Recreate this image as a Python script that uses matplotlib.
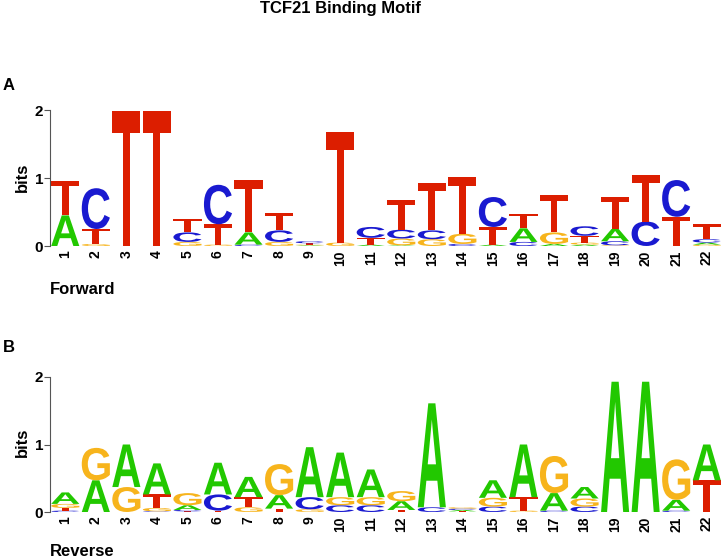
import matplotlib
matplotlib.use('Agg')
import matplotlib.pyplot as plt
from matplotlib.textpath import TextPath
from matplotlib.patches import PathPatch
from matplotlib.font_manager import FontProperties
from matplotlib.transforms import Affine2D

# positions 1..22, information (bits) carried by each base
positions = list(range(1, 23))

fwd_A = [0.45, 0, 0, 0, 0, 0, 0.18, 0, 0.01, 0, 0.02, 0.01, 0, 0, 0.02, 0.20, 0.03, 0.02, 0.18, 0, 0, 0.03]
fwd_C = [0, 0.60, 0, 0, 0.14, 0.58, 0.02, 0.17, 0.03, 0, 0.16, 0.13, 0.13, 0.03, 0.44, 0.06, 0, 0.14, 0.06, 0.36, 0.54, 0.05]
fwd_G = [0, 0.03, 0, 0, 0.06, 0.02, 0, 0.06, 0.01, 0.05, 0, 0.10, 0.10, 0.15, 0, 0, 0.17, 0.03, 0.01, 0, 0, 0.02]
fwd_T = [0.51, 0.22, 1.98, 1.98, 0.20, 0.30, 0.77, 0.25, 0.02, 1.63, 0.10, 0.44, 0.69, 0.83, 0.26, 0.21, 0.55, 0.10, 0.47, 0.68, 0.43, 0.22]

rev_A = [0.17, 0.47, 0.63, 0.46, 0.07, 0.47, 0.30, 0.20, 0.74, 0.66, 0.41, 0.13, 1.54, 0.02, 0.26, 0.78, 0.26, 0.17, 1.93, 1.93, 0.16, 0.53]
rev_C = [0.02, 0, 0, 0.01, 0.02, 0.24, 0, 0, 0.18, 0.10, 0.10, 0, 0.07, 0.02, 0.08, 0, 0.02, 0.08, 0, 0, 0.02, 0]
rev_G = [0.06, 0.48, 0.37, 0.05, 0.18, 0, 0.07, 0.46, 0.04, 0.12, 0.12, 0.15, 0, 0.02, 0.13, 0.02, 0.55, 0.12, 0, 0, 0.60, 0]
rev_T = [0.04, 0, 0, 0.20, 0.01, 0.02, 0.15, 0.05, 0, 0, 0, 0.03, 0, 0.01, 0, 0.20, 0, 0, 0, 0, 0, 0.47]

colors = {'A': '#22c800', 'C': '#1a1ad0', 'G': '#f7b41c', 'T': '#dc1e00'}
fp = FontProperties(family='Liberation Sans', weight='bold')

W, H = 722, 559


def draw_logo(ax, heights):
    for i, pos in enumerate(positions):
        stack = sorted((heights[b][i], b) for b in 'ACGT')
        y = 0
        for h, b in stack:
            if h <= 0:
                continue
            path = TextPath((0, 0), b, size=1, prop=fp)
            ext = path.get_extents()
            t = (Affine2D().translate(-ext.x0, -ext.y0)
                 .scale(0.92 / ext.width, h / ext.height)
                 .translate(pos - 0.46, y))
            ax.add_patch(PathPatch(t.transform_path(path), fc=colors[b], lw=0))
            y += h

    ax.set_xlim(0.5, 22.5)
    ax.set_ylim(0, 2)
    for s in ['top', 'right', 'bottom']:
        ax.spines[s].set_visible(False)
    ax.spines['left'].set_color('#555555')
    ax.spines['left'].set_linewidth(0.8)
    ax.set_yticks([0, 1, 2])
    ax.set_yticklabels(['0', '1', '2'], fontweight='bold', fontsize=11)
    ax.tick_params(axis='y', length=4, width=0.8, color='#555555', pad=1)
    ax.set_xticks(positions)
    ax.set_xticklabels([str(p) for p in positions], rotation=90, fontweight='bold', fontsize=10)
    ax.tick_params(axis='x', length=0, pad=3)


plt.rcParams['font.family'] = ['Liberation Sans', 'DejaVu Sans']
fig = plt.figure(figsize=(W / 100, H / 100), dpi=100)

axA = fig.add_axes([50 / W, 1 - 246 / H, 672 / W, 136 / H])
draw_logo(axA, {'A': fwd_A, 'C': fwd_C, 'G': fwd_G, 'T': fwd_T})

axB = fig.add_axes([50 / W, 1 - 512 / H, 672 / W, 135 / H])
draw_logo(axB, {'A': rev_A, 'C': rev_C, 'G': rev_G, 'T': rev_T})

fig.text(340 / W, 1 - 8 / H, 'TCF21 Binding Motif', ha='center', va='center', fontsize=12, fontweight='bold')
fig.text(3 / W, 1 - 86 / H, 'A', ha='left', va='center', fontsize=12, fontweight='bold')
fig.text(3 / W, 1 - 348 / H, 'B', ha='left', va='center', fontsize=12, fontweight='bold')
fig.text(22 / W, 1 - 177 / H, 'bits', ha='center', va='center', rotation=90, fontsize=12, fontweight='bold')
fig.text(22 / W, 1 - 442 / H, 'bits', ha='center', va='center', rotation=90, fontsize=12, fontweight='bold')
fig.text(50 / W, 1 - 290 / H, 'Forward', ha='left', va='center', fontsize=12, fontweight='bold')
fig.text(50 / W, 1 - 552 / H, 'Reverse', ha='left', va='center', fontsize=12, fontweight='bold')

fig.savefig('out.png', dpi=100)
